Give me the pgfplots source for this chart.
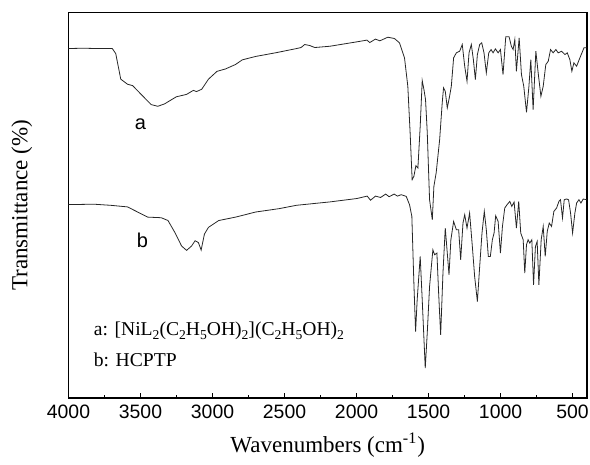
\documentclass[border=0pt]{standalone}
\usepackage{fontspec}
\setmainfont{Liberation Serif}
\newfontfamily\arial{Liberation Sans}
\usepackage{pgfplots}
\pgfplotsset{compat=1.18}
\newcommand\sub[1]{\raisebox{-0.45ex}{\fontsize{6.8}{8}\selectfont #1}}

% spectrum a: [NiL2(C2H5OH)2](C2H5OH)2 (offset units, arbitrary)
\pgfplotstableread{
wn y
4000 349
3900 349.3
3800 349
3696 349
3672 344
3637 318.4
3590 313.3
3555 312
3484 301.5
3426 293
3380 291.3
3333 293.7
3251 300.8
3180 303.2
3133 307.2
3111 306
3075 308.3
3028 318.4
2969 326.2
2910 328.6
2841 333
2793 337.7
2700 341.1
2560 344.8
2419 348.9
2385 350
2360 353
2325 352
2290 350
2184 351.3
1997 355.7
1928 357.4
1908 355
1869 358.4
1838 356.7
1783 360.3
1737 359
1702 354.7
1667 339.7
1644 311.3
1628 265
1614 218
1602 221.3
1588 232
1574 229.7
1558 271.3
1544 317
1532 308
1521 298
1509 265
1493 198
1474 178
1463 211.3
1447 225
1423 258
1405 295
1396 309.7
1384 306.3
1370 289.7
1354 301.3
1342 311.3
1326 339.7
1307 344.7
1284 346.3
1266 353
1249 331.3
1233 316.3
1219 344.7
1203 353
1189 338
1175 318
1161 343
1145 353
1131 354.7
1115 344.7
1099 324.7
1082 344.7
1066 348
1052 344.7
1036 348.7
1017 344.7
1001 348
983 323
964 360.7
941 360.7
925 351.3
913 348
901 358
890 326.3
871 359.7
855 323
839 311.3
820 285.3
804 309.7
790 338
774 288
755 346.3
739 324.7
720 301.3
704 311.3
686 333
669 336.3
653 348
635 344.7
616 348
600 344.7
577 346.3
553 343
537 344.7
519 338
505 326.3
491 334.7
472 331.3
454 338
435 344.7
421 349.7
403 349.7
}\specA

% spectrum b: HCPTP
\pgfplotstableread{
wn y
4000 193.1
3824 193.5
3707 192.4
3590 190.8
3520 185.7
3449 180.6
3356 180
3309 177.2
3262 165.4
3215 151.8
3180 147.4
3145 151.8
3121 157
3098 155.2
3079 147.7
3056 163.7
3028 170.4
2957 177.2
2840 180.6
2700 185.7
2536 189.1
2418 192.4
2184 195.8
1997 199.2
1926 201.6
1903 197.5
1868 201.6
1833 200.2
1798 203.6
1774 201
1739 203.6
1716 201.6
1690 203
1655 201.3
1632 193
1616 181.3
1602 115
1590 66.3
1579 98
1558 141.3
1544 98
1523 29.7
1509 65
1493 111.3
1470 148
1458 143
1442 144.7
1430 104.7
1416 63
1400 124.7
1384 169.7
1370 144.7
1358 123
1345 158
1326 176.3
1307 168
1291 168
1277 138
1261 174.7
1249 183
1233 169.7
1215 184.7
1196 151.3
1180 121.3
1161 96.3
1145 131.3
1129 164.7
1113 186.3
1099 168
1085 141.3
1071 141.3
1057 158
1045 164.7
1034 182
1017 176.3
1001 144.7
987 171.3
971 189.7
955 193
936 196.3
922 191.3
906 195.7
890 169.7
874 196.3
860 164.7
843 158
832 124.7
820 153
809 158
797 154.7
783 158
771 113
758 151.3
746 156.3
734 113
718 158
704 171.3
690 141.3
676 166.3
662 174.7
646 171.3
630 186.3
611 189.7
595 196.3
584 198
570 179.7
558 198
542 198.7
528 198
514 184.7
500 164.7
484 184.7
472 194.7
456 198
442 194.7
426 198.7
403 198
}\specB

\begin{document}
\begin{tikzpicture}
\begin{axis}[
    name=ax,
    scale only axis,
    width=259.3pt, height=192.75pt,
    xmin=400, xmax=4000, x dir=reverse,
    ymin=0, ymax=385,
    xtick={4000,3500,...,500},
    minor x tick num=1,
    ytick=\empty,
    xtick pos=bottom,
    tick align=inside,
    major tick length=2.5pt,
    minor tick length=1.5pt,
    axis line style={line width=0.6pt},
    every tick/.style={black, line width=0.5pt},
    x tick label style={font=\arial\fontsize{9.7}{11}\selectfont, /pgf/number format/1000 sep={}},
    /pgf/number format/assume math mode=true,
    xlabel={Wavenumbers (cm\textsuperscript{-1})},
    ylabel={Transmittance (\%)},
    label style={font=\fontsize{11.5}{13}\selectfont},
    xlabel style={at={(axis description cs:0.5,-0.122)}, anchor=center},
    ylabel style={at={(axis description cs:-0.0897,0.5)}, anchor=center},
    clip=false,
]
\addplot[black!85, line width=0.4pt] table[x=wn, y=y] {\specA};
\addplot[black!85, line width=0.4pt] table[x=wn, y=y] {\specB};
\node[font=\arial\fontsize{10}{12}\selectfont] at (axis cs:3500,273) {a};
\node[font=\arial\fontsize{10}{12}\selectfont] at (axis cs:3486,157) {b};
\node[anchor=base west, font=\fontsize{9.8}{12}\selectfont, inner sep=0pt] at (axis cs:3826,62.4)
    {a: [NiL\sub{2}(C\sub{2}H\sub{5}OH)\sub{2}](C\sub{2}H\sub{5}OH)\sub{2}};
\node[anchor=base west, font=\fontsize{9.8}{12}\selectfont, inner sep=0pt] at (axis cs:3826,31.4) {b: HCPTP};
\end{axis}
\pgfresetboundingbox
\path ([shift={(-34.25pt,-33.5pt)}]ax.south west) rectangle ([shift={(1.5pt,6.25pt)}]ax.north east);
\end{tikzpicture}
\end{document}
